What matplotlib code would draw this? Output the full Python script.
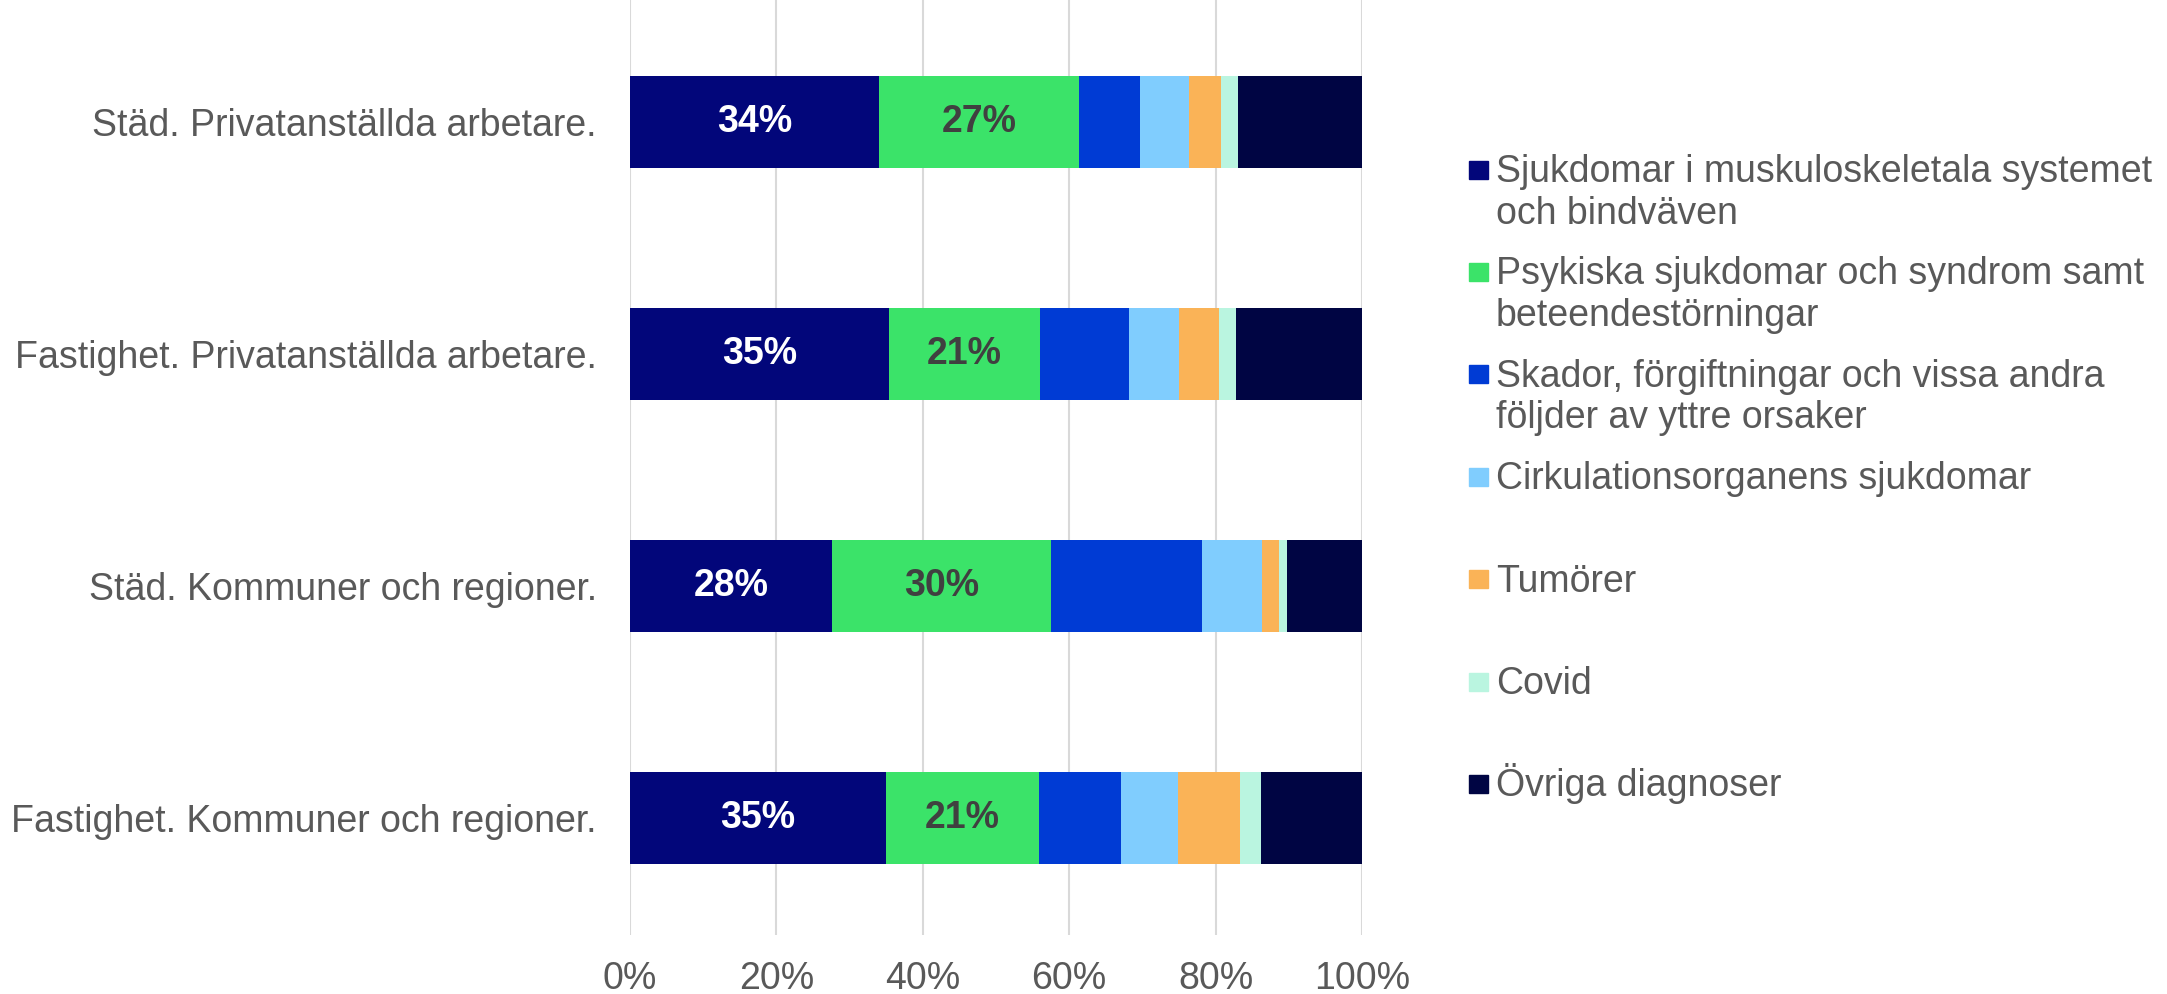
import numpy as np
import matplotlib.pyplot as plt
from matplotlib.patches import Rectangle

plt.rcParams['font.family'] = ['Liberation Sans', 'DejaVu Sans']

categories = ['Städ. Privatanställda arbetare.',
              'Fastighet. Privatanställda arbetare.',
              'Städ. Kommuner och regioner.',
              'Fastighet. Kommuner och regioner.']

series_names = ['Sjukdomar i muskuloskeletala systemet\noch bindväven',
                'Psykiska sjukdomar och syndrom samt\nbeteendestörningar',
                'Skador, förgiftningar och vissa andra\nföljder av yttre orsaker',
                'Cirkulationsorganens sjukdomar',
                'Tumörer',
                'Covid',
                'Övriga diagnoser']

# andel per diagnosgrupp (%), en lista per serie, i kategoriordning
muskulo = [34.0, 35.4, 27.6, 35.0]
psykiska = [27.3, 20.6, 29.9, 20.9]
skador = [8.4, 12.2, 20.7, 11.2]
cirkulation = [6.7, 6.8, 8.1, 7.7]
tumorer = [4.4, 5.4, 2.3, 8.6]
covid = [2.3, 2.4, 1.2, 2.8]
ovriga = [16.9, 17.2, 10.2, 13.8]

data = [muskulo, psykiska, skador, cirkulation, tumorer, covid, ovriga]
colors = ['#02067A', '#3BE369', '#003BD4', '#80CDFE', '#FAB357', '#BAF5E0', '#000543']
label_colors = ['white', '#404040']

W, H = 2167, 994
fig = plt.figure(figsize=(W / 100, H / 100), dpi=100)
ax = fig.add_axes([630 / W, 1 - 935 / H, 732 / W, 935 / H])

y = np.arange(len(categories))
left = np.zeros(len(categories))
for i, vals in enumerate(data):
    vals = np.array(vals)
    bars = ax.barh(y, vals, left=left, height=0.4, color=colors[i], zorder=3)
    if i < 2:
        ax.bar_label(bars, labels=['%d%%' % round(v) for v in vals], label_type='center',
                     color=label_colors[i], fontsize=27, fontweight='bold')
    left += vals

ax.set_xlim(0, 100)
ax.set_ylim(3.504, -0.526)
ax.set_yticks(y)
ax.set_yticklabels(categories)
ax.set_xticks(np.arange(0, 101, 20))
ax.set_xticklabels(['%d%%' % t for t in range(0, 101, 20)])
ax.tick_params(axis='y', length=0, pad=24, labelsize=27, labelcolor='#595959')
ax.tick_params(axis='x', length=0, pad=19, labelsize=27, labelcolor='#595959')
ax.grid(axis='x', color='#D9D9D9', linewidth=1.5, zorder=0)
for s in ax.spines.values():
    s.set_visible(False)

# legend, Excel-style: marker aligned with first text line
y0, dy, line_gap = 169.5, 102.4, 41.5
for i, name in enumerate(series_names):
    yc = y0 + i * dy
    fig.add_artist(Rectangle((1469 / W, 1 - (yc + 9) / H), 19 / W, 18 / H,
                             transform=fig.transFigure, color=colors[i]))
    for k, line in enumerate(name.split('\n')):
        fig.text(1496 / W, 1 - (yc + 12.5 + k * line_gap) / H, line, fontsize=27,
                 color='#595959', va='baseline', ha='left')

fig.savefig('out.png', dpi=100)
